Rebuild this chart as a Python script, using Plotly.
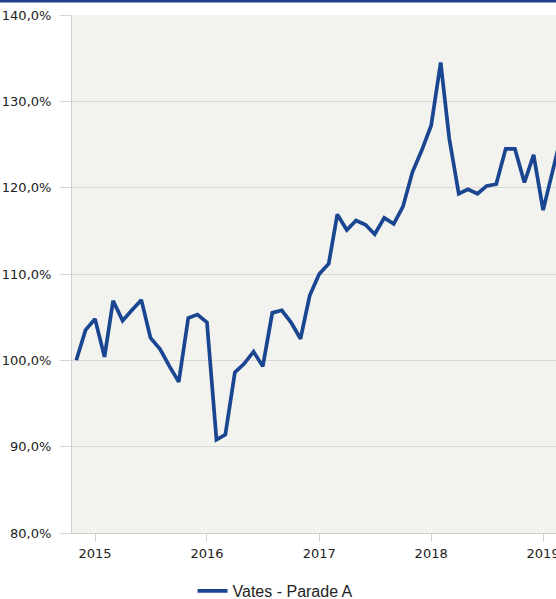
import plotly.graph_objects as go

# monthly index values (%), Nov 2014 .. Mar 2019
months = [
    "2014-11-01", "2014-12-01",
    "2015-01-01", "2015-02-01", "2015-03-01", "2015-04-01", "2015-05-01", "2015-06-01",
    "2015-07-01", "2015-08-01", "2015-09-01", "2015-10-01", "2015-11-01", "2015-12-01",
    "2016-01-01", "2016-02-01", "2016-03-01", "2016-04-01", "2016-05-01", "2016-06-01",
    "2016-07-01", "2016-08-01", "2016-09-01", "2016-10-01", "2016-11-01", "2016-12-01",
    "2017-01-01", "2017-02-01", "2017-03-01", "2017-04-01", "2017-05-01", "2017-06-01",
    "2017-07-01", "2017-08-01", "2017-09-01", "2017-10-01", "2017-11-01", "2017-12-01",
    "2018-01-01", "2018-02-01", "2018-03-01", "2018-04-01", "2018-05-01", "2018-06-01",
    "2018-07-01", "2018-08-01", "2018-09-01", "2018-10-01", "2018-11-01", "2018-12-01",
    "2019-01-01", "2019-02-01", "2019-03-01",
]
vates_parade_a = [
    100.0, 103.5,
    104.8, 100.4, 106.9, 104.6, 105.8, 107.0, 102.6, 101.3, 99.3, 97.5, 104.9, 105.3,
    104.4, 90.8, 91.4, 98.6, 99.6, 101.0, 99.3, 105.5, 105.8, 104.4, 102.5, 107.5,
    110.0, 111.2, 116.9, 115.1, 116.2, 115.7, 114.6, 116.5, 115.8, 117.8, 121.8, 124.3,
    127.2, 134.5, 125.7, 119.3, 119.8, 119.3, 120.2, 120.4, 124.5, 124.5, 120.6, 123.8,
    117.4, 121.7, 126.0,
]
series_name = "Vates - Parade A"
year_ticks = ["2015-01-01", "2016-01-01", "2017-01-01", "2018-01-01", "2019-01-01"]
year_labels = ["2015", "2016", "2017", "2018", "2019"]

blue = "#1a4591"

fig = go.Figure()
fig.add_trace(go.Scatter(
    x=months,
    y=vates_parade_a,
    name=series_name,
    mode="lines",
    line=dict(color=blue, width=3.7),
))

fig.update_layout(
    width=556,
    height=599,
    margin=dict(l=72, r=0, t=15, b=66, autoexpand=False),
    paper_bgcolor="white",
    plot_bgcolor="#f2f2ee",
    separators=",.",
    font=dict(family="DejaVu Sans", size=13, color="#222222"),
    showlegend=True,
    legend=dict(
        orientation="h",
        x=0.249, xanchor="left",
        y=-0.112, yanchor="middle",
        font=dict(family="Liberation Sans", size=16, color="#222222"),
        bgcolor="rgba(0,0,0,0)",
    ),
    xaxis=dict(
        range=["2014-10-18", "2019-02-12"],
        tickvals=year_ticks,
        ticktext=year_labels,
        ticks="outside",
        ticklen=8,
        tickcolor="#d0d0d0",
        ticklabeloverflow="allow",
        showgrid=False,
        showline=True,
        linecolor="#d0d0d0",
        linewidth=1,
        zeroline=False,
        automargin=False,
    ),
    yaxis=dict(
        range=[80, 140],
        dtick=10,
        tickformat=".1f",
        ticksuffix="%",
        ticks="outside",
        ticklen=11,
        tickcolor="#d6d6d6",
        ticklabelstandoff=6,
        showgrid=True,
        gridcolor="#d9d9d9",
        showline=True,
        linecolor="#d0d0d0",
        linewidth=1,
        zeroline=False,
        automargin=False,
    ),
    shapes=[dict(
        type="line", xref="paper", yref="paper",
        x0=-72 / 484, x1=1, y0=1 + 14 / 518, y1=1 + 14 / 518,
        line=dict(color="#1d3f8a", width=3),
    )],
)

# page body has a default 8px margin; drop it so the figure fills the window
fig.write_html(
    "out.html",
    config={"displayModeBar": False},
    post_script="document.body.style.margin='0';document.body.style.overflow='hidden';",
)
